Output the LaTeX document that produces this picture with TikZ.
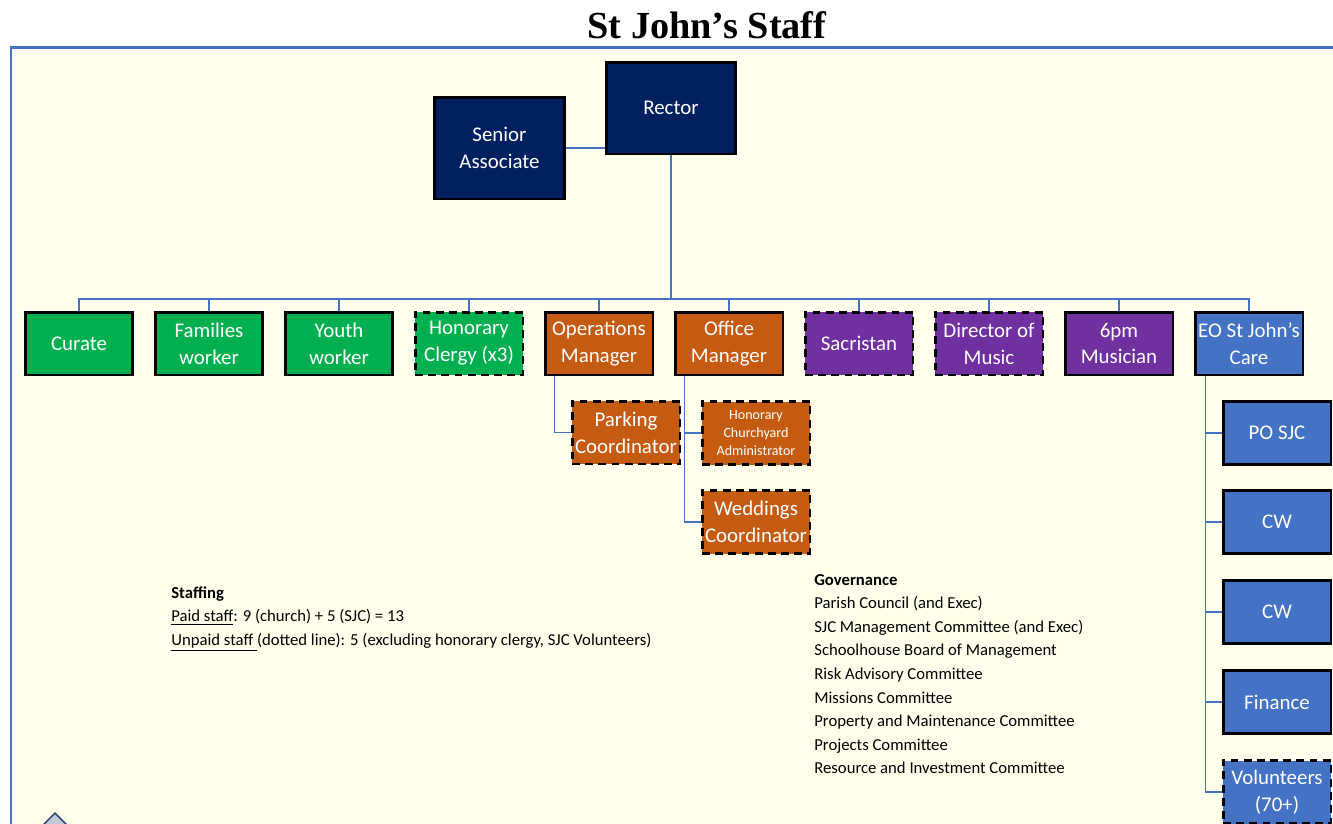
\documentclass[tikz,border=0pt]{standalone}
\usepackage{fontspec}
\setmainfont{Carlito}
\newfontfamily\titlefont{Liberation Serif}
\definecolor{sjnavy}{HTML}{002060}
\definecolor{sjgreen}{HTML}{00B050}
\definecolor{sjorange}{HTML}{C55A11}
\definecolor{sjpurple}{HTML}{7030A0}
\definecolor{sjblue}{HTML}{4472C4}
\definecolor{sjcream}{HTML}{FFFFEC}
\begin{document}
\begin{tikzpicture}[x=0.02cm,y=-0.02cm]
        \tikzset{
          post/.style={draw=black,line width=1.7pt,text=white,align=center,inner sep=1pt,
            minimum width=2.16cm,minimum height=1.26cm,font=\fontsize{11.9}{15.3}\selectfont},
          unpaid/.style={dash pattern=on 4.5pt off 3pt},
          link/.style={draw=sjblue,line width=0.8pt},
          notes/.style={anchor=north west,align=left,inner sep=0pt,font=\fontsize{9.5}{13.4}\selectfont},
        }
        \useasboundingbox (0,0) rectangle (1333,823);
        \clip (0,0) rectangle (1333,823);
        %FRAME
        \draw[sjblue,line width=1.7pt,fill=sjcream] (11,47) rectangle (1400,900);
        \node[font=\titlefont\bfseries\fontsize{21.8}{26}\selectfont,anchor=base] (title) at (707,38) {St John’s Staff};
        %TOP
        \node[post,fill=sjnavy,minimum width=2.6cm,minimum height=1.84cm] (rector) at (671,108) {Rector};
        \node[post,fill=sjnavy,minimum width=2.62cm,minimum height=2.04cm] (senior) at (499.5,148) {Senior\\Associate};
        \draw[link] (senior.east) -- (senior.east -| rector.west);
        %ROW
        \node[post,fill=sjgreen] (curate) at (79,343.5) {Curate};
        \node[post,fill=sjgreen] (families) at (209,343.5) {Families\\worker};
        \node[post,fill=sjgreen] (youth) at (339,343.5) {Youth\\worker};
        \node[post,fill=sjgreen,unpaid] (honclergy) at (469,343.5) {Honorary\\Clergy (x3)};
        \node[post,fill=sjorange] (opsman) at (599,343.5) {Operations\\Manager};
        \node[post,fill=sjorange] (officeman) at (729,343.5) {Office\\Manager};
        \node[post,fill=sjpurple,unpaid] (sacristan) at (859,343.5) {Sacristan};
        \node[post,fill=sjpurple,unpaid] (music) at (989,343.5) {Director of\\Music};
        \node[post,fill=sjpurple] (musician) at (1119,343.5) {6pm\\Musician};
        \node[post,fill=sjblue] (eocare) at (1249,343.5) {EO St John’s\\Care};
        \coordinate (bus) at (671,299);
        \draw[link] (rector.south) -- (bus);
        \foreach \n in {curate,families,youth,honclergy,opsman,officeman,sacristan,music,musician,eocare}
          \draw[link] (\n.north) |- (bus);
        %ORANGE
        \node[post,fill=sjorange,unpaid] (parking) at (626,432.5) {Parking\\Coordinator};
        \node[post,fill=sjorange,unpaid,font=\fontsize{8}{10.2}\selectfont] (churchyard) at (756,433) {Honorary\\Churchyard\\Administrator};
        \node[post,fill=sjorange,unpaid] (weddings) at (756,522) {Weddings\\Coordinator};
        \draw[link] ([xshift=0.22cm]opsman.south west) |- (parking.west);
        \draw[link] ([xshift=0.22cm]officeman.south west) |- (churchyard.west);
        \draw[link] ([xshift=0.22cm]officeman.south west) |- (weddings.west);
        %BLUE
        \node[post,fill=sjblue] (posjc) at (1277,433) {PO SJC};
        \node[post,fill=sjblue] (cwa) at (1277,522) {CW};
        \node[post,fill=sjblue] (cwb) at (1277,612) {CW};
        \node[post,fill=sjblue] (finance) at (1277,702) {Finance};
        \node[post,fill=sjblue,unpaid] (volunteers) at (1277,792) {Volunteers\\(70+)};
        \foreach \n in {posjc,cwa,cwb,finance,volunteers}
          \draw[link] ([xshift=0.24cm]eocare.south west) |- (\n.west);
        %NOTES
        \node[notes] (staffing) at (171,586) {\textbf{Staffing}\\
          \underline{Paid staff}: 9 (church) + 5 (SJC) = 13\\
          \underline{Unpaid staff\ }(dotted line): 5 (excluding honorary clergy, SJC Volunteers)};
        \node[notes] (governance) at (814,574) {\textbf{Governance}\\
          Parish Council (and Exec)\\
          SJC Management Committee (and Exec)\\
          Schoolhouse Board of Management\\
          Risk Advisory Committee\\
          Missions Committee\\
          Property and Maintenance Committee\\
          Projects Committee\\
          Resource and Investment Committee};
        %ICON
        \draw[fill=gray!50!sjblue!40,draw=sjnavy!70!gray,line width=0.8pt] (55,813) -- (70,828) -- (55,843) -- (40,828) -- cycle;
    \end{tikzpicture}
\end{document}
